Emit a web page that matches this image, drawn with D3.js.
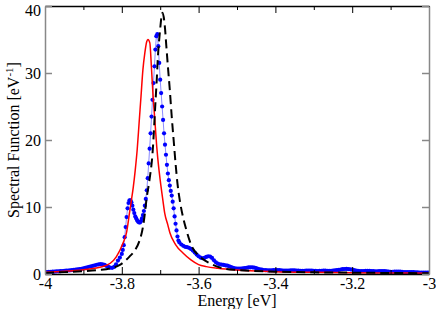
<!DOCTYPE html>
<html>
<head>
<script src="https://d3js.org/d3.v7.min.js"></script>
<style>
  body { margin: 0; background: #fff; }
  svg text { font-family: "Liberation Serif", Tinos, "Times New Roman", Times, "Nimbus Roman", "DejaVu Serif", serif; font-size: 16px; fill: #000; }
</style>
</head>
<body>
<div id="chart"></div>
<script>
// x ticks / y ticks
var xTicks = [-4, -3.9, -3.8, -3.7, -3.6, -3.5, -3.4, -3.3, -3.2, -3.1, -3];
var xLabels = [-4, -3.8, -3.6, -3.4, -3.2, -3];
var yTicks = [0, 10, 20, 30, 40];

// red solid curve (energy, value)
var redE = [-4.00, -3.95, -3.90, -3.857, -3.83, -3.814, -3.797, -3.788, -3.779, -3.775, -3.77, -3.765, -3.76, -3.755, -3.75, -3.745, -3.74, -3.735, -3.732,
            -3.727, -3.723, -3.719, -3.714, -3.709, -3.705, -3.70, -3.693, -3.688, -3.68, -3.675, -3.66, -3.64, -3.62, -3.60, -3.58, -3.55, -3.50, -3.45, -3.40, -3.30, -3.20, -3.10, -3.00];
var redV = [0.25, 0.4, 0.65, 1.0, 1.6, 2.6, 4.6, 6.1, 9.5, 11, 13, 15.5, 18.5, 22.5, 26.5, 30.5, 33, 34.7, 35,
            34.5, 31, 27, 23, 19, 16.5, 14, 11, 9, 7.3, 6.2, 4.4, 3.1, 2.1, 1.4, 1.1, 0.85, 0.6, 0.45, 0.35, 0.25, 0.18, 0.15, 0.12];

// black dashed curve
var blackE = [-4.00, -3.95, -3.90, -3.86, -3.83, -3.805, -3.78, -3.765, -3.755, -3.745, -3.74, -3.736, -3.728, -3.72, -3.712, -3.709, -3.706, -3.701, -3.694,
              -3.688, -3.684, -3.68, -3.675, -3.67, -3.665, -3.66, -3.655, -3.649, -3.641, -3.632, -3.619, -3.597, -3.571, -3.537, -3.50, -3.40, -3.30, -3.20, -3.10, -3.00];
var blackV = [0.15, 0.28, 0.42, 0.6, 0.85, 1.35, 2.6, 3.6, 4.8, 7, 9, 11, 14, 18, 26, 29, 32.4, 36, 39,
              37, 34, 31, 27.5, 23.5, 20, 16.5, 13.5, 11, 8.6, 6.6, 4.3, 2.6, 1.6, 0.85, 0.6, 0.35, 0.25, 0.2, 0.15, 0.12];

// blue dotted curve, sampled on three energy grids
var blueLeftStart = -4.0, blueLeftStep = 0.005;
var blueLeft = [0.30, 0.30, 0.32, 0.33, 0.35, 0.36, 0.38, 0.40, 0.42, 0.45,
                0.47, 0.50, 0.52, 0.55, 0.58, 0.62, 0.65, 0.68, 0.72, 0.78,
                0.85, 0.92, 1.00, 1.08, 1.15, 1.22, 1.30, 1.38, 1.45, 1.48,
                1.45, 1.35, 1.20, 1.05, 0.95, 0.92, 1.05, 1.45, 2.00, 2.45];
var blueMidStart = -3.8, blueMidStep = 0.0025;
var blueMid = [3.0, 3.6, 4.3, 5.5, 7.0, 8.5, 9.8, 10.6, 11.0, 11.0,
               10.7, 10.2, 9.6, 9.1, 8.6, 8.3, 8.0, 7.8, 7.7, 7.7,
               7.9, 8.3, 8.8, 9.4, 10.2, 11.2, 12.5, 14.3, 16.5, 18.7,
               21.0, 23.5, 26.0, 28.5, 31.0, 33.5, 35.5, 35.8, 34.0, 31.5,
               29.0, 27.0, 25.0, 23.0, 21.0, 19.3, 17.8, 16.3, 15.0, 14.0,
               13.2, 12.4, 11.7, 10.8, 9.8, 8.6, 7.5, 6.5, 5.6, 5.0, 4.7];
var blueRightStart = -3.645, blueRightStep = 0.005;
var blueRight = [4.4, 4.2, 4.05, 4.0, 3.9, 3.75, 3.5, 3.2, 2.9, 2.65,
                 2.45, 2.35, 2.4, 2.55, 2.65, 2.6, 2.4, 2.05, 1.75, 1.55,
                 1.45, 1.4, 1.35, 1.3, 1.25, 1.15, 1.02, 0.92, 0.85, 0.82,
                 0.8, 0.8, 0.83, 0.88, 0.93, 0.98, 1.0, 1.0, 0.95, 0.87,
                 0.78, 0.7, 0.64, 0.6, 0.57, 0.55, 0.55, 0.56, 0.58, 0.6,
                 0.6, 0.58, 0.55, 0.52, 0.5, 0.5, 0.52, 0.55, 0.56, 0.55,
                 0.52, 0.5, 0.48, 0.47, 0.48, 0.5, 0.52, 0.52, 0.5, 0.48,
                 0.46, 0.45, 0.46, 0.48, 0.5, 0.5, 0.48, 0.47, 0.48, 0.5,
                 0.53, 0.57, 0.62, 0.67, 0.72, 0.75, 0.76, 0.74, 0.7, 0.64,
                 0.58, 0.52, 0.48, 0.45, 0.44, 0.45, 0.47, 0.48, 0.47, 0.45,
                 0.42, 0.4, 0.4, 0.42, 0.44, 0.44, 0.42, 0.38, 0.35, 0.33,
                 0.33, 0.35, 0.37, 0.37, 0.35, 0.32, 0.3, 0.28, 0.28, 0.3,
                 0.3, 0.28, 0.26, 0.24, 0.22, 0.22, 0.22, 0.2, 0.2, 0.2];

var width = 436, height = 309;
var margin = {left: 45, right: 7, top: 6, bottom: 35};

var svg = d3.select("#chart").append("svg")
  .attr("width", width)
  .attr("height", height);

var x = d3.scaleLinear().domain([-4, -3]).range([margin.left, width - margin.right]);
var y = d3.scaleLinear().domain([0, 40]).range([height - margin.bottom, margin.top]);

function zip(es, vs) {
  return es.map((e, i) => ({e: e, v: vs[i]}));
}
function grid(start, step, vs) {
  return vs.map((v, i) => ({e: start + i * step, v: v}));
}

var redData = zip(redE, redV);
var blackData = zip(blackE, blackV);
var blueData = grid(blueLeftStart, blueLeftStep, blueLeft)
  .concat(grid(blueMidStart, blueMidStep, blueMid))
  .concat(grid(blueRightStart, blueRightStep, blueRight));

svg.append("defs").append("clipPath").attr("id", "clip")
  .append("rect")
  .attr("x", margin.left).attr("y", margin.top)
  .attr("width", width - margin.left - margin.right)
  .attr("height", height - margin.top - margin.bottom);

var plot = svg.append("g").attr("clip-path", "url(#clip)");

var line = d3.line().x(d => x(d.e)).y(d => y(d.v));
var smooth = d3.line().x(d => x(d.e)).y(d => y(d.v)).curve(d3.curveMonotoneX);

// blue: thin light line + dots
plot.append("path")
  .datum(blueData)
  .attr("d", line)
  .attr("fill", "none")
  .attr("stroke", "#8c8cff")
  .attr("stroke-width", 1);

plot.append("g").selectAll("circle")
  .data(blueData)
  .enter()
  .append("circle")
    .attr("cx", d => x(d.e))
    .attr("cy", d => y(d.v))
    .attr("r", 2.1)
    .attr("fill", "#0000ff");

plot.append("path")
  .datum(redData)
  .attr("d", smooth)
  .attr("fill", "none")
  .attr("stroke", "#ff0000")
  .attr("stroke-width", 1.5);

plot.append("path")
  .datum(blackData)
  .attr("d", smooth)
  .attr("fill", "none")
  .attr("stroke", "#000")
  .attr("stroke-width", 2)
  .attr("stroke-dasharray", "9,5");

// axes
var isMajor = d => xLabels.some(l => Math.abs(l - d) < 1e-6);
var fmt = d => isMajor(d) ? String(+d.toFixed(1)) : "";

var gBottom = svg.append("g")
  .attr("transform", "translate(0," + y(0) + ")")
  .call(d3.axisBottom(x).tickValues(xTicks).tickFormat(fmt).tickSize(-7).tickSizeOuter(0).tickPadding(4));
gBottom.selectAll(".tick line").attr("y2", d => isMajor(d) ? -7 : -4);

var gTop = svg.append("g")
  .attr("transform", "translate(0," + y(40) + ")")
  .call(d3.axisTop(x).tickValues(xTicks).tickFormat("").tickSize(-7).tickSizeOuter(0));
gTop.selectAll(".tick line").attr("y2", d => isMajor(d) ? 7 : 4);

var gLeft = svg.append("g")
  .attr("transform", "translate(" + x(-4) + ",0)")
  .call(d3.axisLeft(y).tickValues(yTicks).tickFormat(d => d).tickSize(-7).tickSizeOuter(0).tickPadding(4));

var gRight = svg.append("g")
  .attr("transform", "translate(" + x(-3) + ",0)")
  .call(d3.axisRight(y).tickValues(yTicks).tickFormat("").tickSize(-7).tickSizeOuter(0));

[gBottom, gTop, gLeft, gRight].forEach(g => g.attr("font-family", null).attr("font-size", null));
[gBottom, gTop].forEach(g => {
  g.select(".domain").attr("stroke", "#000").attr("stroke-width", 1.5);
  g.selectAll(".tick line").attr("stroke", "#000").attr("stroke-width", 1);
});
[gLeft, gRight].forEach(g => {
  g.select(".domain").attr("stroke", "#888").attr("stroke-width", 1.5);
  g.selectAll(".tick line").attr("stroke", "#888").attr("stroke-width", 1.5);
});
svg.selectAll(".tick text").attr("fill", "#000");
gLeft.selectAll(".tick text").filter(d => d === 40).attr("dy", "0.62em");

// axis titles
svg.append("text")
  .attr("x", (x(-4) + x(-3)) / 2)
  .attr("y", 306)
  .attr("text-anchor", "middle")
  .text("Energy [eV]");

var yt = svg.append("text")
  .attr("transform", "translate(19," + ((y(0) + y(40)) / 2) + ") rotate(-90)")
  .attr("text-anchor", "middle");
yt.append("tspan").text("Spectral Function [eV");
yt.append("tspan").attr("dy", -6).attr("font-size", "11px").text("-1");
yt.append("tspan").attr("dy", 6).text("]");
</script>
</body>
</html>
